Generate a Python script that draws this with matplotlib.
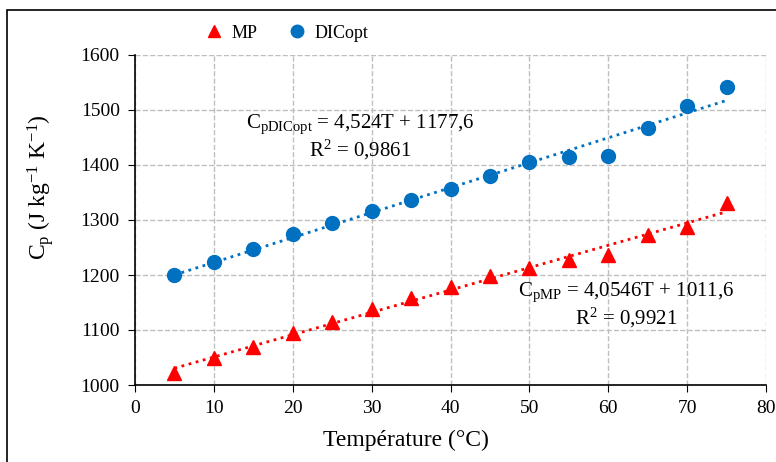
import numpy as np
import matplotlib
matplotlib.use("Agg")
from matplotlib import pyplot as plt
from matplotlib.patches import Rectangle

plt.rcParams['font.family'] = ['Liberation Serif', 'DejaVu Serif']
plt.rcParams['mathtext.fontset'] = 'custom'
plt.rcParams['mathtext.rm'] = 'Liberation Serif'
plt.rcParams['mathtext.it'] = 'Liberation Serif:italic'

# data
temp = [5, 10, 15, 20, 25, 30, 35, 40, 45, 50, 55, 60, 65, 70, 75]
cp_mp = [1022, 1050, 1070, 1095, 1115, 1138, 1158, 1178, 1198, 1212, 1228, 1237, 1272, 1287, 1331]
cp_dic = [1200, 1224, 1247, 1274, 1295, 1316, 1336, 1357, 1380, 1405, 1415, 1417, 1467, 1508, 1541]
red = '#FF0000'
blue = '#0070C0'

fig = plt.figure(figsize=(7.76, 4.62), dpi=100)
ax = fig.add_axes([135 / 776, 1 - 385 / 462, 631 / 776, 330 / 462])

# frame round the whole chart
fig.patches.append(Rectangle((7 / 776, -0.05), 1.0, 1 - 10 / 462 + 0.05,
                             transform=fig.transFigure, fill=False,
                             edgecolor='black', lw=1.2))

t = np.array(temp)
ax.plot(temp, cp_mp, '^', color=red, ms=10, label='MP', zorder=3)
ax.plot(temp, cp_dic, 'o', color=blue, ms=10, label='DICopt', zorder=3)

# linear trendlines
for y, c in [(cp_mp, red), (cp_dic, blue)]:
    a, b = np.polyfit(t, y, 1)
    ax.plot(t, a * t + b, ':', color=c, lw=2, zorder=2)

ax.set_xlim(0, 80)
ax.set_ylim(1000, 1600)
ax.set_xticks(range(0, 81, 10))
ax.set_yticks(range(1000, 1601, 100))
ax.grid(True, ls='--', color='#BFBFBF', lw=1)
ax.set_axisbelow(True)
for s in ['top', 'right']:
    ax.spines[s].set_visible(False)
ax.spines['left'].set_linewidth(1.2)
ax.spines['bottom'].set_linewidth(1.2)
ax.tick_params(direction='out', length=5, labelsize=14, pad=6)

ax.set_xlabel('Température (°C)', fontsize=17)
ax.set_ylabel(r'C$_\mathrm{p}$ (J kg$^{-1}$ K$^{-1}$)', fontsize=17)
ax.xaxis.set_label_coords(0.43, -0.135)
ax.yaxis.set_label_coords(-0.125, 0.6)

ax.text(28.6, 1450, r'C$_\mathrm{pDICopt}$ = 4,524T + 1177,6' + '\n' + r'R$^2$ = 0,9861',
        ha='center', va='center', fontsize=15, linespacing=1.1)
ax.text(62.3, 1145, r'C$_\mathrm{pMP}$ = 4,0546T + 1011,6' + '\n' + r'R$^2$ = 0,9921',
        ha='center', va='center', fontsize=15, linespacing=1.1)

fig.legend(loc='center', bbox_to_anchor=(282 / 776, 1 - 33 / 462), ncol=2,
           frameon=False, fontsize=13, handletextpad=0.0, columnspacing=1.15,
           markerscale=0.9)

fig.savefig('out.png', dpi=100)
